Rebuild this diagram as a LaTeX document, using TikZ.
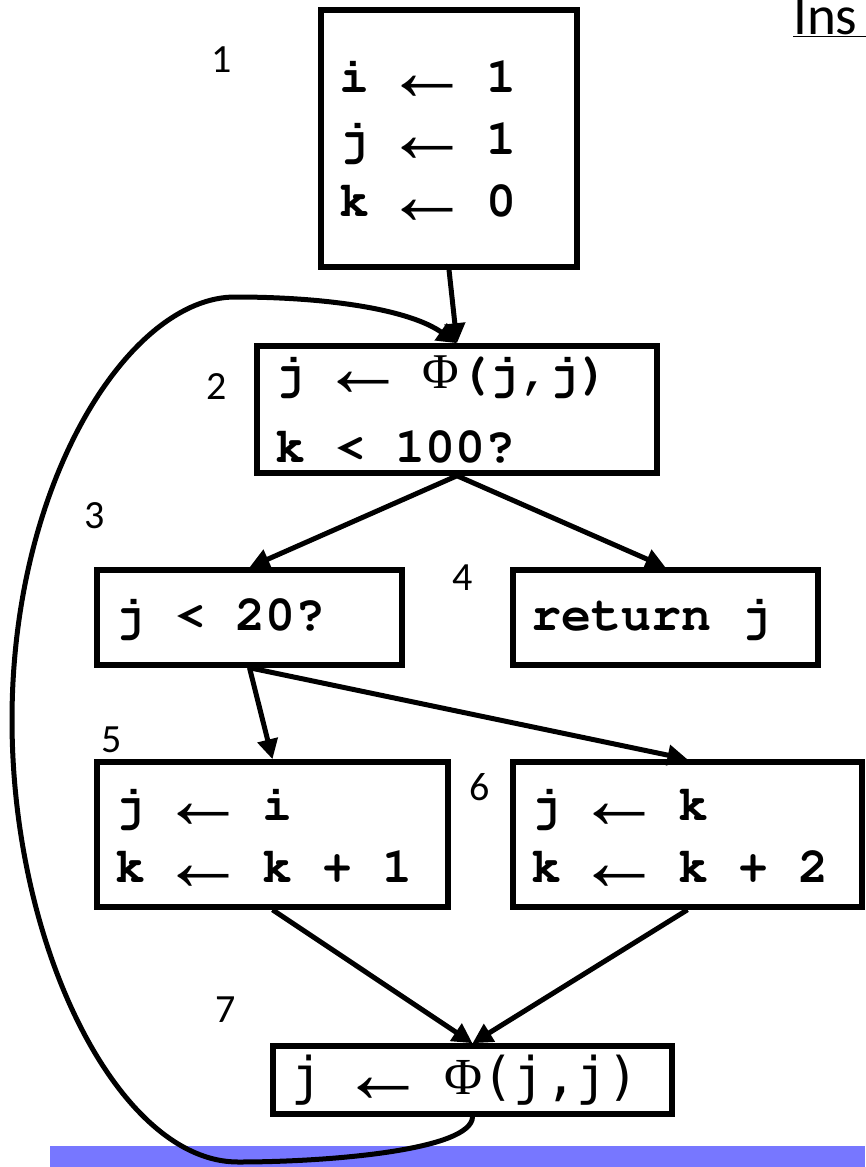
\documentclass[tikz,border=0pt]{standalone}
\usepackage[T1]{fontenc}
\usepackage{fontspec}
\usepackage{graphicx}
\setmainfont{Carlito}
\newfontfamily\plaincodefont{DejaVu Sans Mono}
\newfontfamily\arrowfont{Liberation Sans}
\newfontfamily\phifont{Liberation Serif}
\newcommand{\codefont}{\fontencoding{T1}\fontfamily{pcr}\bfseries}
\usepackage{xcolor}
\usepackage{tikz}
\usetikzlibrary{positioning,arrows.meta}
\definecolor{barblue}{HTML}{7777FF}
\newcommand{\getsarr}{\makebox[1.15em]{\raisebox{-8pt}[0pt][0pt]{\arrowfont\mdseries\fontsize{86}{0}\selectfont ←}}}
\newcommand{\phisym}{{\phifont\mdseries Φ}}
\tikzset{
  block/.style={draw,line width=5.5pt,align=left,inner xsep=18pt,inner ysep=0pt,
    font=\codefont\fontsize{50}{62}\selectfont,
    execute at begin node={\spaceskip=0.6em\relax}},
  num/.style={font=\fontsize{40}{48}\selectfont},
  arr/.style={-{Triangle[length=20pt,width=20pt]},line width=5pt},
}

\begin{document}
\begin{tikzpicture}[x=1pt,y=-1pt]
\useasboundingbox (0,0) rectangle (865,1167);
\fill[barblue] (50,1146) rectangle (865,1167);
\node[font=\fontsize{55}{60}\selectfont, anchor=base west, inner sep=0pt] (title) at (793,34) {\underline{Ins\kern20pt}};
% basic blocks
\node[block, text width=220pt, minimum height=257pt] (b1) at (449,138.5) {i \getsarr{} 1\\ j \getsarr{} 1\\ k \getsarr{} 0};
\node[block, text width=364pt, minimum height=127pt] (b2) at (457,409.5) {j \getsarr{} \phisym(j,j)\\[12pt] k < 100?};
\node[block, text width=269pt, minimum height=95pt] (b3) at (249.5,617.5) {j < 20?};
\node[block, text width=269pt, minimum height=95pt] (b4) at (665.5,617.5) {return j};
\node[block, text width=315pt, minimum height=145pt] (b5) at (272.5,834.5) {j \getsarr{} i\\ k \getsarr{} k + 1};
\node[block, text width=313pt, minimum height=145pt] (b6) at (687.5,834.5) {j \getsarr{} k\\ k \getsarr{} k + 2};
\node[block, text width=363pt, minimum height=68pt, font=\plaincodefont\fontsize{52}{60}\selectfont] (b7) at (472.5,1080) {j \getsarr{} \phisym(j,j)};
% block numbers
\node[num] (n1) at (222,60) {1};
\node[num] (n2) at (217,387) {2};
\node[num] (n3) at (95,516) {3};
\node[num] (n4) at (463,578) {4};
\node[num] (n5) at (112,740) {5};
\node[num] (n6) at (480,787) {6};
\node[num] (n7) at (226,1010) {7};
% edges
\draw[arr] (b1.south) -- (b2.north);
\draw[arr] (b2.south) -- (b3.north);
\draw[arr] (b2.south) -- (b4.north);
\draw[arr] (b3.south) -- (b5.north);
\draw[arr] (b3.south) -- (b6.north);
\draw[arr] (b5.south) -- (b7.north);
\draw[arr] (b6.south) -- (b7.north);
% back edge
\coordinate (lowpt) at (238,1162);
\coordinate (leftpt) at (12,720);
\coordinate (toppt) at (235,297);
\draw[arr] (b7.south) .. controls (472,1150) and (330,1162) .. (lowpt)
  .. controls (120,1162) and (12,950) .. (leftpt)
  .. controls (12,480) and (130,297) .. (toppt)
  .. controls (330,297) and (410,310) .. (b2.north);
\end{tikzpicture}
\end{document}
